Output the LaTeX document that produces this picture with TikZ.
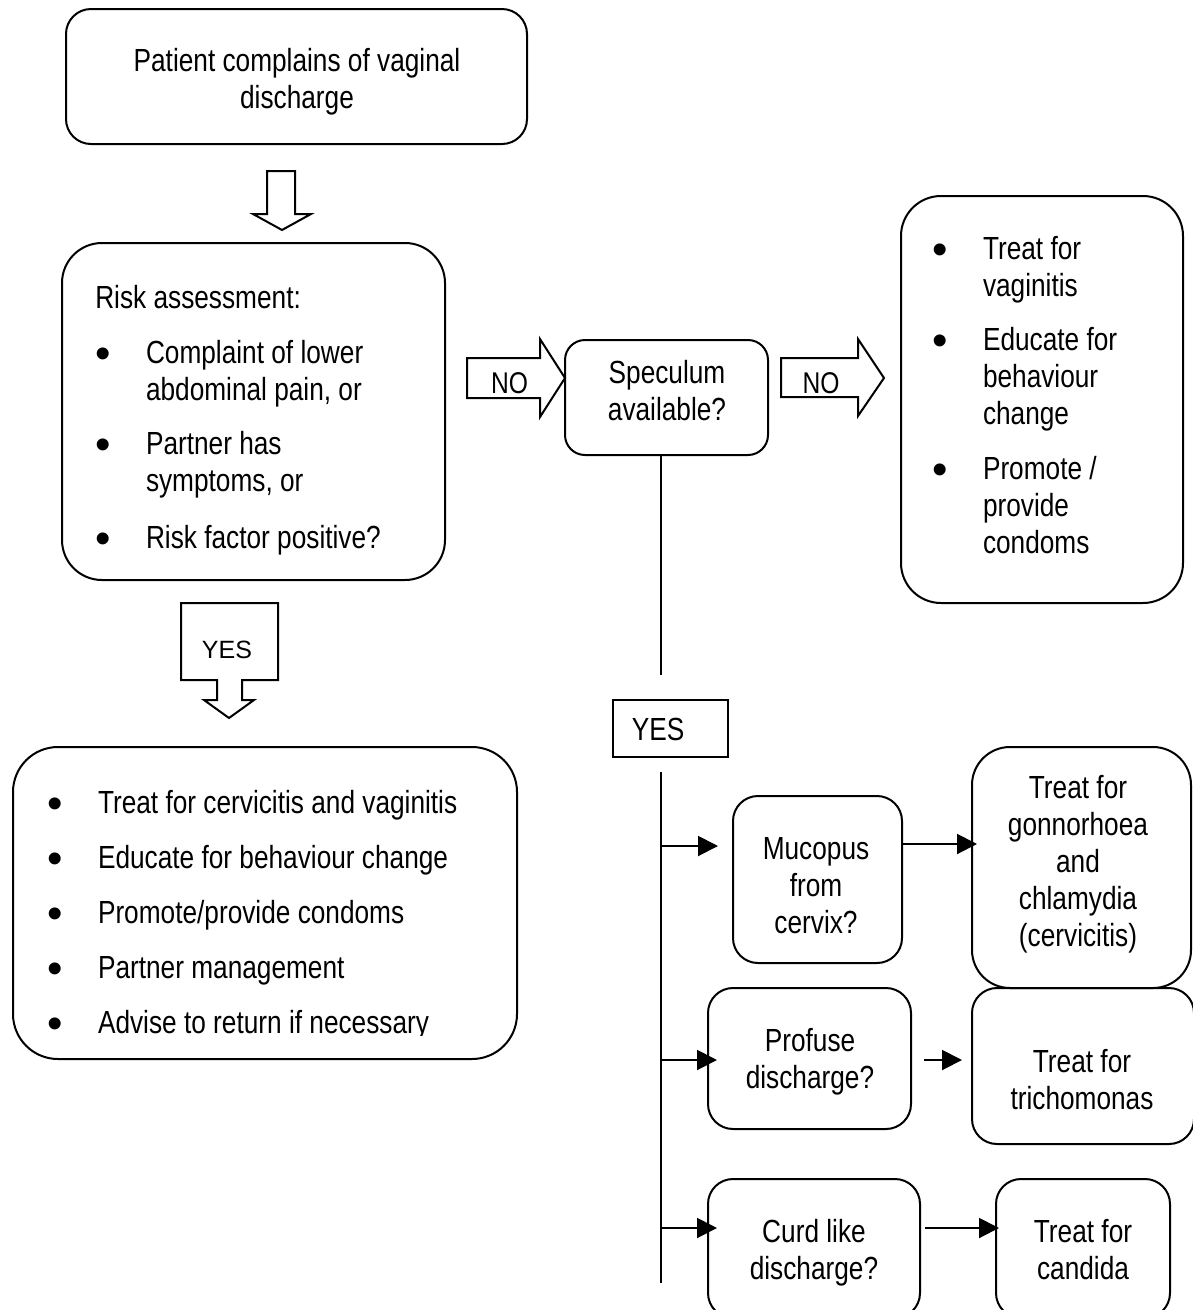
\documentclass[tikz,border=0pt]{standalone}
\usepackage{fontspec}
\setmainfont{Liberation Sans}[FakeStretch=0.82]
\newfontfamily\widefont{Liberation Sans}
\usetikzlibrary{arrows.meta,calc}

\newcommand{\bodyfont}{\fontsize{32}{37}\selectfont}
\newcommand{\bdot}{\makebox[50.7pt][l]{\widefont\fontsize{44}{37}\selectfont\raisebox{-5pt}{•}}}
\newcommand{\hang}{\hspace*{50.7pt}}

\begin{document}
\begin{tikzpicture}[x=1pt,y=-1pt,
  line width=2pt,
  box/.style={draw, line width=2pt, rounded corners=#1, inner sep=0pt},
  box/.default=25pt,
  txt/.style={inner sep=0pt, font=\bodyfont, align=center},
  lst/.style={inner sep=0pt, font=\bodyfont, align=left, anchor=west},
  hollow/.style={draw, line width=2pt, line join=miter, fill=white},
  arr/.style={draw, line width=2pt, -{Triangle[length=20pt,width=20pt]}},
]
\useasboundingbox (0,0) rectangle (1193,1310);

% ---- boxes ----
\node[box=25pt, minimum width=461pt, minimum height=135pt] (top)   at (296.5,76.5) {};
\node[box=40pt, minimum width=383pt, minimum height=337pt] (risk)  at (253.5,411.5) {};
\node[box=45pt, minimum width=504pt, minimum height=312pt] (treat) at (265,903) {};
\node[box=20pt, minimum width=203pt, minimum height=115pt] (spec)  at (666.5,397.5) {};
\node[box=40pt, minimum width=282pt, minimum height=407pt] (vag)   at (1042,399.5) {};
\node[box=25pt, minimum width=169pt, minimum height=167pt] (muco)  at (817.5,879.5) {};
\node[box=38pt, minimum width=219pt, minimum height=241pt] (gono)  at (1081.5,867.5) {};
\node[box=25pt, minimum width=203pt, minimum height=141pt] (prof)  at (809.5,1058.5) {};
\node[box=25pt, minimum width=222pt, minimum height=156pt] (trich) at (1083,1066) {};
\node[box=25pt, minimum width=212pt, minimum height=139pt] (curd)  at (814,1248.5) {};
\node[box=25pt, minimum width=174pt, minimum height=139pt] (cand)  at (1083,1248.5) {};
\node[draw, line width=2pt, inner sep=0pt, minimum width=115pt, minimum height=57pt] (yesbox) at (670.5,728.5) {};

% ---- box texts ----
\node[txt] (topT) at (297,82) {Patient complains of vaginal\\discharge};
\node[lst] (riskT) at (94.3,420) {Risk assessment:\\[18pt]%
\bdot Complaint of lower\\%
\hang abdominal pain, or\\[17pt]%
\bdot Partner has\\%
\hang symptoms, or\\[20pt]%
\bdot Risk factor positive?};
\begin{scope}
  \clip (0,0) rectangle (1193,1035);
  \node[lst] (treatT) at (46.3,915) {\bdot Treat for cervicitis and vaginitis\\[18pt]%
\bdot Educate for behaviour change\\[18pt]%
\bdot Promote/provide condoms\\[18pt]%
\bdot Partner management\\[18pt]%
\bdot Advise to return if necessary};
\end{scope}
\node[lst] (vagT) at (931.3,395) {\bdot Treat for\\%
\hang vaginitis\\[17pt]%
\bdot Educate for\\%
\hang behaviour\\%
\hang change\\[18pt]%
\bdot Promote /\\%
\hang provide\\%
\hang condoms};
\node[txt] (specT)  at (667,391)    {Speculum\\available?};
\node[txt] (mucoT)  at (816,885.7)  {Mucopus\\from\\cervix?};
\node[txt] (gonoT)  at (1078,864)   {Treat for\\gonnorhoea\\and\\chlamydia\\(cervicitis)};
\node[txt] (profT)  at (810,1061.4) {Profuse\\discharge?};
\node[txt] (trichT) at (1082,1080)  {Treat for\\trichomonas};
\node[txt] (curdT)  at (814,1253)   {Curd like\\discharge?};
\node[txt] (candT)  at (1083,1250)  {Treat for\\candida};

% ---- hollow block arrows ----
\draw[hollow] (267,171) -- (295,171) -- (295,214) -- (311,214) -- (282,230)
  -- (253,214) -- (267,214) -- cycle;
\draw[hollow] (181,603) -- (278,603) -- (278,680) -- (242,680) -- (242,700)
  -- (254,700) -- (229,718) -- (204,700) -- (217,700) -- (217,680) -- (181,680) -- cycle;
\node[inner sep=0pt, font=\widefont\fontsize{25}{30}\selectfont, anchor=base] (yes1) at (227,658) {YES};
\draw[hollow] (467,358) -- (540,358) -- (540,339) -- (565,378) -- (540,417)
  -- (540,398) -- (467,398) -- cycle;
\node[inner sep=0pt, font=\fontsize{30}{36}\selectfont, anchor=base] (no1) at (509.5,393) {NO};
\draw[hollow] (781,358) -- (858,358) -- (858,339) -- (884,378) -- (858,416)
  -- (858,397) -- (781,397) -- cycle;
\node[inner sep=0pt, font=\fontsize{30}{36}\selectfont, anchor=base] (no2) at (821,393) {NO};
\node[inner sep=0pt, font=\bodyfont, anchor=base] (yes2) at (658,740) {YES};

% ---- trunk and branches ----
\coordinate (trunkTop) at (661,675);
\draw (spec.south -| trunkTop) -- (trunkTop);
\coordinate (trunkS) at (661,772);
\coordinate (trunkE) at (661,1283);
\draw (trunkS) -- (trunkE);
\coordinate (b1) at (718,846);
\coordinate (b2) at (717,1060);
\coordinate (b3) at (717,1228);
\draw[arr] (trunkS |- b1) -- (b1);
\draw[arr] (trunkS |- b2) -- (b2);
\draw[arr] (trunkS |- b3) -- (b3);

\coordinate (gtip) at (977,844);
\draw[arr] (muco.east |- gtip) -- (gtip);
\coordinate (pS) at (924,1060);
\coordinate (pE) at (962,1060);
\draw[arr] (pS) -- (pE);
\coordinate (cS) at (925,1228);
\coordinate (cE) at (999,1228);
\draw[arr] (cS) -- (cE);
\end{tikzpicture}
\end{document}
